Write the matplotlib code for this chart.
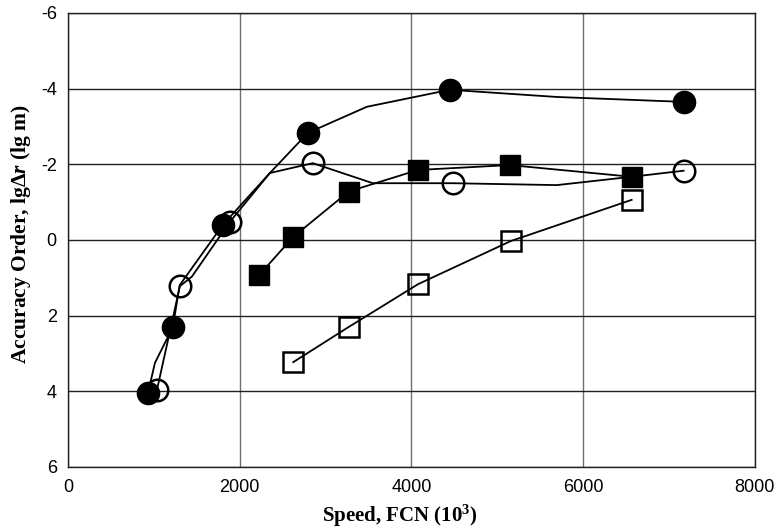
import matplotlib
matplotlib.use("Agg")
import matplotlib.pyplot as plt

# line vertices (the curves have extra bends without markers)
fc_line_x = [931, 1013, 1222, 1300, 1804, 2352, 2794, 3481, 4447, 5693, 7171]
fc_line_y = [4.05, 3.25, 2.3, 1.2, -0.4, -1.77, -2.83, -3.52, -3.97, -3.78, -3.65]
oc_line_x = [1036, 1304, 1443, 1886, 2352, 2852, 3551, 4482, 5693, 6566, 7171]
oc_line_y = [3.97, 1.22, 0.97, -0.48, -1.77, -2.03, -1.5, -1.5, -1.45, -1.67, -1.83]

# marker positions
fc_x = [931, 1222, 1804, 2794, 4447, 7171]
fc_y = [4.05, 2.3, -0.4, -2.83, -3.97, -3.65]
oc_x = [1036, 1304, 1886, 2852, 4482, 7171]
oc_y = [3.97, 1.22, -0.48, -2.03, -1.5, -1.83]
fs_x = [2226, 2624, 3270, 4077, 5145, 6566]
fs_y = [0.93, -0.08, -1.28, -1.85, -1.98, -1.67]
os_x = [2624, 3270, 4077, 5157, 6566]
os_y = [3.23, 2.3, 1.17, 0.03, -1.06]

x_ticks = [0, 2000, 4000, 6000, 8000]
y_ticks = [-6, -4, -2, 0, 2, 4, 6]

plt.rcParams['font.family'] = ['Liberation Sans', 'DejaVu Sans']
plt.rcParams['axes.unicode_minus'] = False
plt.rcParams['mathtext.fontset'] = 'custom'
plt.rcParams['mathtext.rm'] = 'Liberation Serif:bold'
plt.rcParams['mathtext.bf'] = 'Liberation Serif:bold'
plt.rcParams['mathtext.it'] = 'Liberation Serif:italic:bold'

fig = plt.figure(figsize=(7.84, 5.30), dpi=100)
ax = fig.add_axes([0.0867, 0.119, 0.876, 0.8565])

ax.plot(fc_line_x, fc_line_y, color='black', lw=1.3, zorder=3)
ax.plot(oc_line_x, oc_line_y, color='black', lw=1.3, zorder=3)
ax.plot(fs_x, fs_y, color='black', lw=1.3, zorder=3)
ax.plot(os_x, os_y, color='black', lw=1.3, zorder=3)

ax.plot(fc_x, fc_y, 'o', ms=16, mfc='black', mec='black', zorder=4)
ax.plot(oc_x, oc_y, 'o', ms=15.5, mfc='none', mec='black', mew=1.8, zorder=4)
ax.plot(fs_x, fs_y, 's', ms=15, mfc='black', mec='black', zorder=4)
ax.plot(os_x, os_y, 's', ms=15, mfc='none', mec='black', mew=1.8, zorder=4)

ax.set_xlim(0, 8000)
ax.set_ylim(6, -6)
ax.set_xticks(x_ticks)
ax.set_yticks(y_ticks)
ax.tick_params(length=0, labelsize=13)
ax.tick_params(axis='x', pad=9)
ax.tick_params(axis='y', pad=8)
ax.xaxis.grid(True, color='#707070', lw=1.0)
ax.yaxis.grid(True, color='#202020', lw=1.0)
ax.set_axisbelow(True)
for sp in ax.spines.values():
    sp.set_color('#202020')
    sp.set_linewidth(1.0)

ax.set_xlabel(r'Speed, FCN (10$^{\mathbf{3}}$)', fontsize=15,
              fontweight='bold', family='Liberation Serif')
ax.set_ylabel(r'Accuracy Order, lg$\Delta\mathit{r}$ (lg m)', fontsize=15.5,
              fontweight='bold', family='Liberation Serif')
ax.xaxis.set_label_coords(0.483, -0.078)
ax.yaxis.set_label_coords(-0.051, 0.513)

fig.savefig('out.png', dpi=100)
